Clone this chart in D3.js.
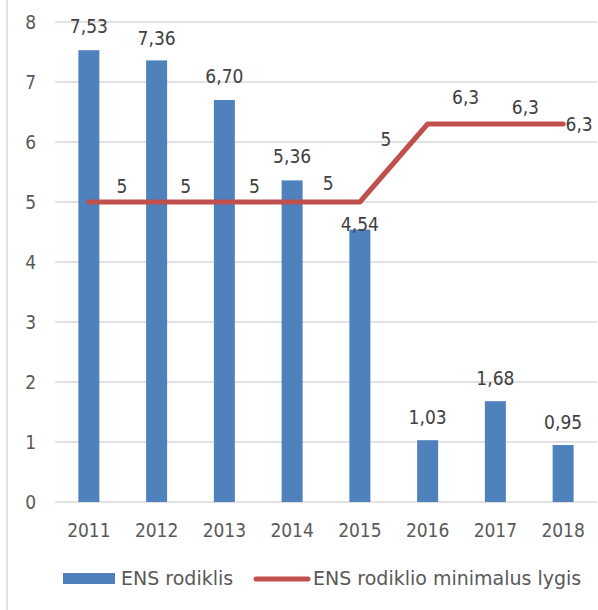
<!DOCTYPE html>
<html>
<head>
<meta charset="utf-8">
<script src="https://cdn.jsdelivr.net/npm/d3@7"></script>
<style>
  body { margin: 0; background: #fff; }
  svg text { font-family: "DejaVu Sans Condensed", "DejaVu Sans", sans-serif; font-stretch: condensed; }
  svg text.legend-text { font-family: "DejaVu Sans", sans-serif; font-stretch: normal; }
</style>
</head>
<body>
<svg id="chart" width="598" height="610"></svg>
<script>
// data
var years = ["2011", "2012", "2013", "2014", "2015", "2016", "2017", "2018"];
var ensValues = [7.53, 7.36, 6.70, 5.36, 4.54, 1.03, 1.68, 0.95];
var minLevel = [5, 5, 5, 5, 5, 6.3, 6.3, 6.3];
var yTicks = [0, 1, 2, 3, 4, 5, 6, 7, 8];
var seriesNames = ["ENS rodiklis", "ENS rodiklio minimalus lygis"];

// label nudges (the original labels were dragged by hand)
var barLabelDy = [-17, -15, -17, -17, 1, -16, -16, -16];
var lineLabelOffset = [[33, -9], [29, -9], [30, -9], [36, -12], [26, -56], [38, -20], [30, -10], [16, 7]];

var svg = d3.select("#chart"),
    width = +svg.attr("width"),
    height = +svg.attr("height");

var plotLeft = 55, plotRight = 597, plotTop = 22, plotBottom = 502;
var fmt = function (v, d) { return v.toFixed(d).replace(".", ","); };

var x = d3.scalePoint().domain(years).range([plotLeft, plotRight]).padding(0.5);
var y = d3.scaleLinear().domain([0, 8]).range([plotBottom, plotTop]);
var barW = x.step() * 0.31;

// chart frame (left edge only visible)
svg.append("line")
    .attr("x1", 7).attr("x2", 7).attr("y1", 0).attr("y2", height)
    .attr("stroke", "#d9d9d9").attr("stroke-width", 1.5);

// gridlines
svg.append("g").selectAll("line")
    .data(yTicks)
    .enter().append("line")
    .attr("x1", plotLeft).attr("x2", plotRight)
    .attr("y1", function (d) { return y(d); })
    .attr("y2", function (d) { return y(d); })
    .attr("stroke", "#d9d9d9").attr("stroke-width", 1.5);

// y axis labels
svg.append("g").selectAll("text")
    .data(yTicks)
    .enter().append("text")
    .attr("x", 36)
    .attr("y", function (d) { return y(d) + 7; })
    .attr("text-anchor", "end")
    .attr("font-size", 19)
    .attr("fill", "#595959")
    .text(function (d) { return d; });

// x axis labels
svg.append("g").selectAll("text")
    .data(years)
    .enter().append("text")
    .attr("x", function (d) { return x(d); })
    .attr("y", 537)
    .attr("text-anchor", "middle")
    .attr("font-size", 19)
    .attr("fill", "#595959")
    .text(function (d) { return d; });

// bars
svg.append("g").selectAll("rect")
    .data(ensValues)
    .enter().append("rect")
    .attr("x", function (d, i) { return x(years[i]) - barW / 2; })
    .attr("y", function (d) { return y(d); })
    .attr("width", barW)
    .attr("height", function (d) { return y(0) - y(d); })
    .attr("fill", "#4f81bd");

// line
var line = d3.line()
    .x(function (d, i) { return x(years[i]); })
    .y(function (d) { return y(d); });

svg.append("path")
    .datum(minLevel)
    .attr("d", line)
    .attr("fill", "none")
    .attr("stroke", "#c0504d")
    .attr("stroke-width", 5)
    .attr("stroke-linecap", "round")
    .attr("stroke-linejoin", "round");

// bar labels
svg.append("g").selectAll("text")
    .data(ensValues)
    .enter().append("text")
    .attr("x", function (d, i) { return x(years[i]); })
    .attr("y", function (d, i) { return y(d) + barLabelDy[i]; })
    .attr("text-anchor", "middle")
    .attr("font-size", 19)
    .attr("fill", "#404040")
    .text(function (d) { return fmt(d, 2); });

// line labels
svg.append("g").selectAll("text")
    .data(minLevel)
    .enter().append("text")
    .attr("x", function (d, i) { return x(years[i]) + lineLabelOffset[i][0]; })
    .attr("y", function (d, i) { return y(d) + lineLabelOffset[i][1]; })
    .attr("text-anchor", "middle")
    .attr("font-size", 19)
    .attr("fill", "#404040")
    .text(function (d) { return d % 1 === 0 ? d : fmt(d, 1); });

// legend
var legend = svg.append("g");
legend.append("rect")
    .attr("x", 63).attr("y", 573).attr("width", 52).attr("height", 11)
    .attr("fill", "#4f81bd");
legend.append("text")
    .attr("class", "legend-text")
    .attr("x", 121).attr("y", 585)
    .attr("font-size", 19).attr("fill", "#595959")
    .text(seriesNames[0]);
legend.append("line")
    .attr("x1", 256).attr("x2", 308).attr("y1", 579).attr("y2", 579)
    .attr("stroke", "#c0504d").attr("stroke-width", 5).attr("stroke-linecap", "round");
legend.append("text")
    .attr("class", "legend-text")
    .attr("x", 313).attr("y", 585)
    .attr("font-size", 19).attr("fill", "#595959")
    .text(seriesNames[1]);
</script>
</body>
</html>
